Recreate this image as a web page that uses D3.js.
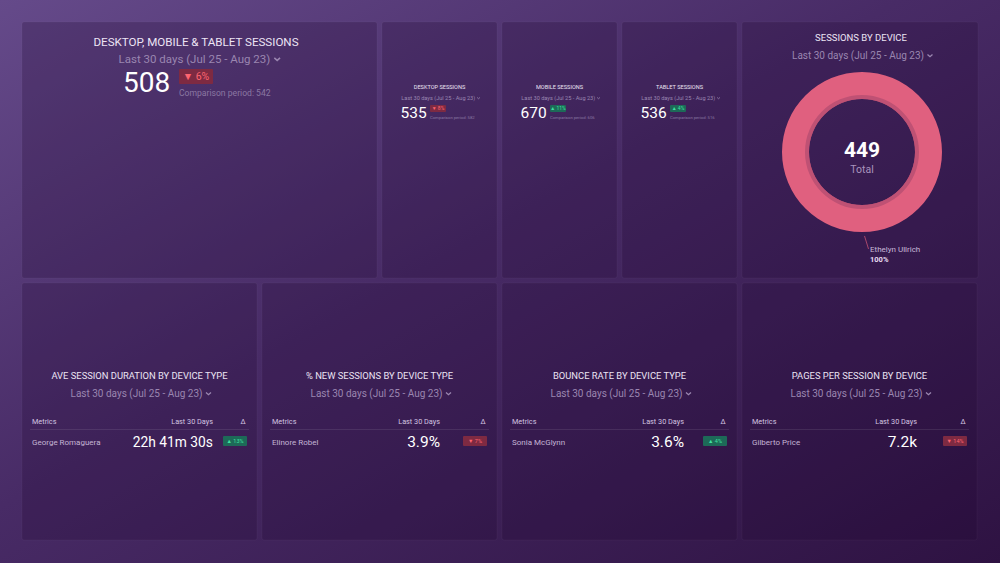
<!DOCTYPE html>
<html>
<head>
<meta charset="utf-8">
<script src="https://cdn.jsdelivr.net/npm/d3@7"></script>
<style>
  html, body { margin: 0; padding: 0; background: #3d2256; }
  svg { display: block; font-family: Roboto, "Noto Sans", sans-serif; }
</style>
</head>
<body>
<div id="chart"></div>
<script>
// data
const dateRange = "Last 30 days (Jul 25 - Aug 23)";
const mainTitle = "DESKTOP, MOBILE & TABLET SESSIONS";
const mainValue = 508;
const mainChange = -6;
const mainComparison = 542;

const deviceTitles = ["DESKTOP SESSIONS", "MOBILE SESSIONS", "TABLET SESSIONS"];
const deviceValues = [535, 670, 536];
const deviceChanges = [-8, 11, 4];
const deviceComparisons = [582, 606, 516];

const donutTitle = "SESSIONS BY DEVICE";
const donutLabels = ["Ethelyn Ullrich"];
const donutValues = [449];

const tableTitles = ["AVE SESSION DURATION BY DEVICE TYPE", "% NEW SESSIONS BY DEVICE TYPE", "BOUNCE RATE BY DEVICE TYPE", "PAGES PER SESSION BY DEVICE"];
const tableMetrics = ["George Romaguera", "Elinore Robel", "Sonia McGlynn", "Gilberto Price"];
const tableValues = ["22h 41m 30s", "3.9%", "3.6%", "7.2k"];
const tableChanges = [13, -7, 4, -14];

// layout
const width = 1000, height = 563;
const colors = {
    title: "#ece4f4",
    sub: "#9a86b0",
    value: "#ffffff",
    upBg: "#1d6a58", upText: "#3fe0a0",
    downBg: "#7e2a42", downText: "#ff6470",
    donut: "#e0607f", donutEdge: "#a9476c"
};
const topRow = [22, 278], bottomRow = [283, 540];
const valueRight = [191, 178, 182, 175];
const valueSize = [13.8, 15.5, 15.5, 15.5];

const svg = d3.select("#chart").append("svg")
    .attr("width", width)
    .attr("height", height);

const defs = svg.append("defs");
const bg = defs.append("linearGradient").attr("id", "bg")
    .attr("x1", 0).attr("y1", 0).attr("x2", 1).attr("y2", 1);
bg.append("stop").attr("offset", "0%").attr("stop-color", "#654a8a");
bg.append("stop").attr("offset", "45%").attr("stop-color", "#482b66");
bg.append("stop").attr("offset", "100%").attr("stop-color", "#2e1242");

svg.append("rect").attr("width", width).attr("height", height).attr("fill", "url(#bg)");

function panel(x0, x1, y) {
    svg.append("rect")
        .attr("x", x0).attr("y", y[0])
        .attr("width", x1 - x0).attr("height", y[1] - y[0])
        .attr("rx", 2)
        .attr("fill", "rgba(30,6,48,0.24)")
        .attr("stroke", "rgba(255,255,255,0.035)");
}

function dateLine(cx, y, size) {
    const t = svg.append("text")
        .attr("x", cx).attr("y", y)
        .attr("text-anchor", "middle")
        .attr("font-size", size)
        .attr("fill", colors.sub)
        .text(dateRange);
    const w = t.node().getComputedTextLength();
    const s = size * 0.25;
    t.attr("x", cx - s * 1.6);
    const ax = cx - s * 1.6 + w / 2 + s * 1.4, ay = y - size * 0.35;
    svg.append("path")
        .attr("d", `M${ax},${ay - s * 0.4}L${ax + s},${ay + s * 0.5}L${ax + s * 2},${ay - s * 0.4}`)
        .attr("fill", "none")
        .attr("stroke", colors.sub)
        .attr("stroke-width", Math.max(0.8, size * 0.13));
}

function badge(x, y, w, h, change, size) {
    const up = change >= 0;
    svg.append("rect")
        .attr("x", x).attr("y", y).attr("width", w).attr("height", h)
        .attr("rx", 1)
        .attr("fill", up ? colors.upBg : colors.downBg);
    svg.append("text")
        .attr("x", x + w / 2).attr("y", y + h / 2 + size * 0.36)
        .attr("text-anchor", "middle")
        .attr("font-size", size)
        .attr("fill", up ? colors.upText : colors.downText)
        .text(`${up ? "▲" : "▼"} ${Math.abs(change)}%`);
}

// main KPI panel
panel(22, 377, topRow);
svg.append("text").attr("x", 196).attr("y", 46)
    .attr("text-anchor", "middle").attr("font-size", 11.6)
    .attr("fill", colors.title).text(mainTitle);
dateLine(199, 63, 11.5);
svg.append("text").attr("x", 123).attr("y", 92)
    .attr("font-size", 28).attr("fill", colors.value).text(mainValue);
badge(179, 69, 34, 15, mainChange, 10.5);
svg.append("text").attr("x", 179).attr("y", 96)
    .attr("font-size", 8.6).attr("fill", "#8a78a2")
    .text(`Comparison period: ${mainComparison}`);

// device KPI panels
const deviceX = d3.scaleBand()
    .domain(deviceTitles)
    .range([382, 737])
    .paddingInner(5 / 120);

deviceTitles.forEach((t, i) => {
    const x0 = deviceX(t), x1 = x0 + deviceX.bandwidth();
    const cx = (x0 + x1) / 2;
    panel(x0, x1, topRow);
    svg.append("text").attr("x", cx).attr("y", 88.5)
        .attr("text-anchor", "middle").attr("font-size", 5.6)
        .attr("fill", colors.title).text(t);
    dateLine(cx + 1, 100, 5.6);
    svg.append("text").attr("x", x0 + 18.5).attr("y", 118)
        .attr("font-size", 15.5).attr("fill", colors.value).text(deviceValues[i]);
    badge(x0 + 48, 105, 16, 7, deviceChanges[i], 5);
    svg.append("text").attr("x", x0 + 48).attr("y", 119)
        .attr("font-size", 4.2).attr("fill", "#8a78a2")
        .text(`Comparison period: ${deviceComparisons[i]}`);
});

// donut panel
panel(742, 978, topRow);
svg.append("text").attr("x", 861).attr("y", 41)
    .attr("text-anchor", "middle").attr("font-size", 9.5)
    .attr("fill", colors.title).text(donutTitle);
dateLine(862, 59, 10);

const cx = 862, cy = 152, outerR = 80, innerR = 53;
const pie = d3.pie().sort(null).value(d => d)(donutValues);
const arc = d3.arc().innerRadius(innerR).outerRadius(outerR);
const g = svg.append("g").attr("transform", `translate(${cx},${cy})`);
g.selectAll("path.slice").data(pie).join("path")
    .attr("class", "slice")
    .attr("d", arc)
    .attr("fill", colors.donut);
g.append("path")
    .attr("d", d3.arc().innerRadius(innerR).outerRadius(innerR + 4)({startAngle: 0, endAngle: 2 * Math.PI}))
    .attr("fill", colors.donutEdge)
    .attr("opacity", 0.6);
g.append("text").attr("y", 5).attr("text-anchor", "middle")
    .attr("font-size", 21).attr("font-weight", "bold")
    .attr("fill", colors.value).text(d3.sum(donutValues));
g.append("text").attr("y", 21).attr("text-anchor", "middle")
    .attr("font-size", 10.5).attr("fill", "#a994bd").text("Total");

// label callout
pie.forEach(d => {
    const a = Math.PI * 1.0 - 0.03;
    const p0 = [Math.sin(a) * (outerR + 4), -Math.cos(a) * (outerR + 4)];
    g.append("line")
        .attr("x1", p0[0]).attr("y1", p0[1])
        .attr("x2", p0[0] + 4).attr("y2", p0[1] + 13)
        .attr("stroke", colors.donutEdge).attr("stroke-width", 1);
    g.append("text").attr("x", 8).attr("y", 100)
        .attr("font-size", 8).attr("fill", "#c8b8d8").text(donutLabels[d.index]);
    g.append("text").attr("x", 8).attr("y", 110)
        .attr("font-size", 7.5).attr("font-weight", "bold")
        .attr("fill", "#e8dcf2")
        .text(d3.format(".0%")((d.endAngle - d.startAngle) / (2 * Math.PI)));
});

// table panels
const tableX = d3.scaleBand()
    .domain(tableTitles)
    .range([22, 977])
    .paddingInner(5 / 240);

tableTitles.forEach((t, i) => {
    const x0 = tableX(t), x1 = x0 + tableX.bandwidth();
    const cx = (x0 + x1) / 2;
    panel(x0, x1, bottomRow);
    svg.append("text").attr("x", cx).attr("y", 379)
        .attr("text-anchor", "middle").attr("font-size", 9.4)
        .attr("fill", colors.title).text(t);
    dateLine(cx + 1, 397, 10);

    const hy = 424;
    svg.append("text").attr("x", x0 + 10).attr("y", hy)
        .attr("font-size", 7.3).attr("fill", "#d2c4e0").text("Metrics");
    svg.append("text").attr("x", x0 + valueRight[i]).attr("y", hy)
        .attr("text-anchor", "end").attr("font-size", 7.3)
        .attr("fill", "#d2c4e0").text("Last 30 Days");
    svg.append("text").attr("x", x0 + 221).attr("y", hy)
        .attr("text-anchor", "middle").attr("font-size", 7.3)
        .attr("fill", "#d2c4e0").text("Δ");
    svg.append("line")
        .attr("x1", x0 + 8).attr("x2", x1 - 8)
        .attr("y1", 429.5).attr("y2", 429.5)
        .attr("stroke", "rgba(255,255,255,0.09)");

    svg.append("text").attr("x", x0 + 10).attr("y", 445)
        .attr("font-size", 8).attr("fill", "#c4b4d4").text(tableMetrics[i]);
    svg.append("text").attr("x", x0 + valueRight[i]).attr("y", 447)
        .attr("text-anchor", "end").attr("font-size", valueSize[i])
        .attr("fill", colors.value).text(tableValues[i]);
    badge(x0 + 201, 436, 24, 10, tableChanges[i], 5.5);
});
</script>
</body>
</html>
